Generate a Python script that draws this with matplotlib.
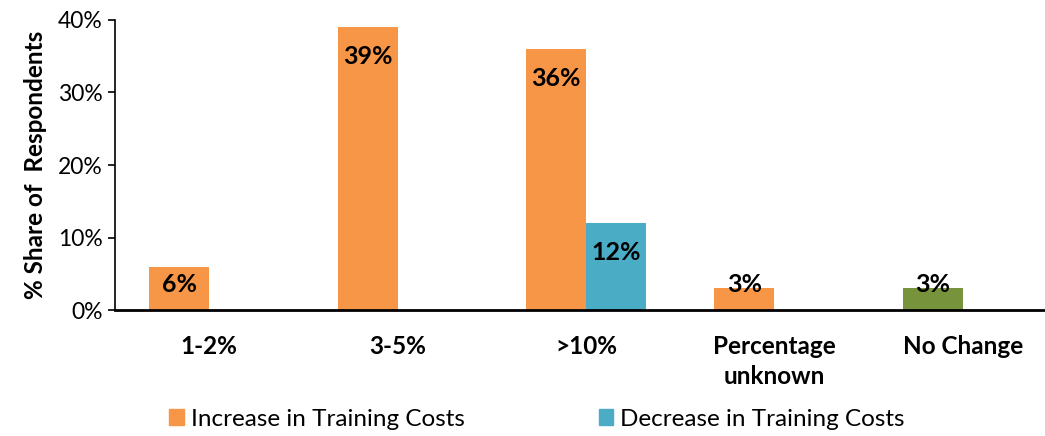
import matplotlib.pyplot as plt
import numpy as np

plt.rcParams["font.family"] = ["Lato", "DejaVu Sans"]

categories = ["1-2%", "3-5%", ">10%", "Percentage\nunknown", "No Change"]
increase = [6, 39, 36, 3, 3]
decrease = [0, 0, 12, 0, 0]
increase_colors = ["#F79646", "#F79646", "#F79646", "#F79646", "#77933C"]

ORANGE = "#F79646"
TEAL = "#4BACC6"


def label_offset(v):
    # Excel "inside end" labels, pushed up on short bars
    if v >= 10:
        return -21
    if v >= 5:
        return -13
    return 3


fig = plt.figure(figsize=(10.45, 4.36), dpi=100)
ax = fig.add_axes([115 / 1045, (436 - 310) / 436, 942 / 1045, 290 / 436])

x = np.arange(len(categories))
w = 0.318
bars_inc = ax.bar(x - w / 2, increase, w, color=increase_colors, label="Increase in Training Costs")
bars_dec = ax.bar(x + w / 2, decrease, w, color=TEAL, label="Decrease in Training Costs")

for bars, vals in ((bars_inc, increase), (bars_dec, decrease)):
    for b, v in zip(bars, vals):
        if v == 0:
            continue
        ax.annotate(f"{v}%", (b.get_x() + b.get_width() / 2, v),
                    xytext=(0, label_offset(v)), textcoords="offset points",
                    ha="center", va="center", fontsize=18, fontweight="bold")

ax.set_xlim(-0.5, len(categories) - 0.5)
ax.set_ylim(0, 40)
ax.set_yticks(range(0, 41, 10))
ax.set_yticklabels([f"{t}%" for t in range(0, 41, 10)], fontsize=16.5)
ax.set_xticks(x)
ax.set_xticklabels(categories, fontsize=17.5, fontweight="bold", linespacing=1.35)
ax.tick_params(axis="x", length=0, pad=18)
ax.tick_params(axis="y", length=5, width=1.2, direction="out", pad=4)
ax.set_ylabel("% Share of  Respondents", fontsize=17.5, fontweight="bold", labelpad=8)

for s in ("top", "right"):
    ax.spines[s].set_visible(False)
ax.spines["left"].set_linewidth(1.2)
ax.spines["bottom"].set_linewidth(2)

handles = [plt.Rectangle((0, 0), 1, 1, color=ORANGE), plt.Rectangle((0, 0), 1, 1, color=TEAL)]
fig.legend(handles, ["Increase in Training Costs", "Decrease in Training Costs"],
           loc="center", bbox_to_anchor=(537 / 1045, 1 - 419 / 436), ncol=2, frameon=False,
           fontsize=17.5, handlelength=0.6, handleheight=0.6, handletextpad=0.3,
           columnspacing=5.5)

fig.savefig("out.png", dpi=100)
